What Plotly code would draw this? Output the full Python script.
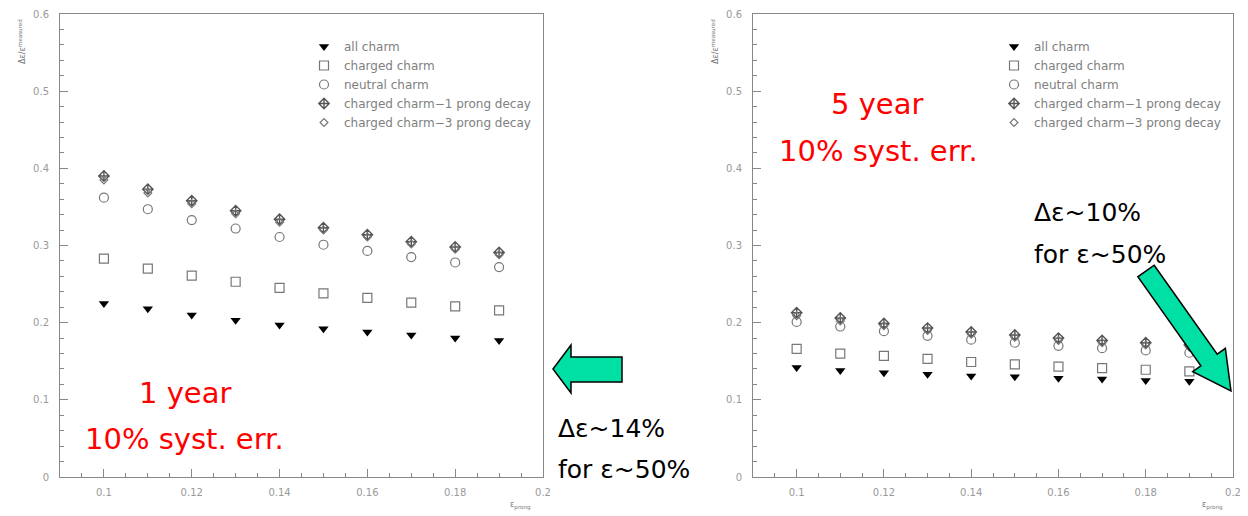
import math
import plotly.graph_objects as go

# The page body has an 8px default margin, so the figure is sized to fit the
# window and all pixel positions below are given in window coordinates.
OFF = 8
W, H = 1248 - OFF, 516 - OFF

# ---------------- data ----------------
x_vals = [0.10, 0.11, 0.12, 0.13, 0.14, 0.15, 0.16, 0.17, 0.18, 0.19]

series_names = ["all charm", "charged charm", "neutral charm",
                "charged charm\u22121 prong decay", "charged charm\u22123 prong decay"]

# 1 year (left panel)
all_1y = [0.225, 0.218, 0.210, 0.203, 0.197, 0.192, 0.188, 0.184, 0.180, 0.177]
charged_1y = [0.283, 0.270, 0.261, 0.253, 0.245, 0.238, 0.232, 0.226, 0.221, 0.216]
neutral_1y = [0.362, 0.347, 0.333, 0.322, 0.311, 0.301, 0.293, 0.285, 0.278, 0.272]
prong1_1y = [0.390, 0.373, 0.358, 0.345, 0.334, 0.323, 0.314, 0.305, 0.298, 0.291]
prong3_1y = [0.385, 0.368, 0.354, 0.341, 0.330, 0.320, 0.311, 0.302, 0.295, 0.288]

# 5 year (right panel)
all_5y = [0.142, 0.138, 0.135, 0.133, 0.131, 0.130, 0.128, 0.127, 0.125, 0.124]
charged_5y = [0.166, 0.160, 0.157, 0.153, 0.149, 0.146, 0.143, 0.141, 0.139, 0.137]
neutral_5y = [0.201, 0.195, 0.189, 0.183, 0.178, 0.174, 0.170, 0.167, 0.164, 0.161]
prong1_5y = [0.213, 0.206, 0.199, 0.193, 0.188, 0.184, 0.180, 0.177, 0.174, 0.171]
prong3_5y = [0.209, 0.202, 0.196, 0.190, 0.185, 0.181, 0.177, 0.174, 0.171, 0.168]

y_ticks = [0, 0.1, 0.2, 0.3, 0.4, 0.5, 0.6]
y_tick_labels = ["0", "0.1", "0.2", "0.3", "0.4", "0.5", "0.6"]
x_ticks = [0.1, 0.12, 0.14, 0.16, 0.18, 0.2]
x_tick_labels = ["0.1", "0.12", "0.14", "0.16", "0.18", "0.2"]

# ---------------- helpers ----------------
def px(x):
    return (x - OFF) / W

def py(y):
    return 1 - (y - OFF) / H

styles = [
    dict(symbol="triangle-down", size=9, color="black", line=dict(width=0)),
    dict(symbol="square-open", size=9, color="#777777", line=dict(width=1.2)),
    dict(symbol="circle-open", size=9, color="#777777", line=dict(width=1.2)),
    dict(symbol="diamond-cross-open", size=8, color="#555555", line=dict(width=1.4)),
    dict(symbol="diamond-open", size=6, color="#777777", line=dict(width=1.2)),
]

fig = go.Figure()

left_sets = [all_1y, charged_1y, neutral_1y, prong1_1y, prong3_1y]
right_sets = [all_5y, charged_5y, neutral_5y, prong1_5y, prong3_5y]

for name, ys, st in zip(series_names, left_sets, styles):
    fig.add_trace(go.Scatter(x=x_vals, y=ys, mode="markers", name=name,
                             marker=st, xaxis="x", yaxis="y", legend="legend"))
for name, ys, st in zip(series_names, right_sets, styles):
    fig.add_trace(go.Scatter(x=x_vals, y=ys, mode="markers", name=name,
                             marker=st, xaxis="x2", yaxis="y2", legend="legend2"))

axis_common = dict(
    showline=True, mirror=True, linecolor="#888888", linewidth=1, automargin=False,
    showgrid=False, zeroline=False, ticks="inside", ticklen=8, tickcolor="#888888",
    tickfont=dict(family="DejaVu Sans", size=10, color="#999999"),
)

xdom_l = [px(60), px(543)]
xdom_r = [px(753), px(1233)]
ydom = [py(477), py(14)]

xaxis_cfg = dict(axis_common, range=[0.09, 0.2], tickvals=x_ticks, ticktext=x_tick_labels,
                 minor=dict(dtick=0.005, tick0=0.09, ticks="inside", ticklen=4, tickcolor="#888888"),
                 ticklabelstandoff=6)
yaxis_cfg = dict(axis_common, range=[0, 0.6], tickvals=y_ticks, ticktext=y_tick_labels,
                 minor=dict(dtick=0.02, tick0=0, ticks="inside", ticklen=4, tickcolor="#888888"),
                 ticklabelstandoff=8)

legend_common = dict(bgcolor="rgba(0,0,0,0)", font=dict(family="DejaVu Sans", size=12, color="#808080"),
                     xanchor="left", yanchor="top", itemsizing="trace", tracegroupgap=0)

# ---------------- arrows ----------------
GREEN = "#00E0A4"

def path_from(points):
    return "M " + " L ".join(f"{px(x):.5f} {py(y):.5f}" for x, y in points) + " Z"

left_arrow = [(553, 369), (571, 345), (571, 357), (622, 357), (622, 382), (571, 382), (571, 393)]

T = (1146.0, 271.0)
tip = (1231.0, 391.0)
dx, dy = tip[0] - T[0], tip[1] - T[1]
L = math.hypot(dx, dy)
ux, uy = dx / L, dy / L
nx, ny = uy, -ux
hb, hh, headlen = 10, 20, 38
base = L - headlen

def pt(a, b):
    return (T[0] + a * ux + b * nx, T[1] + a * uy + b * ny)

right_arrow = [pt(0, hb), pt(base, hb), pt(base, hh), tip, pt(base, -hh), pt(base, -hb), pt(0, -hb)]

shapes = [
    dict(type="path", xref="paper", yref="paper", path=path_from(left_arrow),
         fillcolor=GREEN, line=dict(color="black", width=1.5), layer="above"),
    dict(type="path", xref="paper", yref="paper", path=path_from(right_arrow),
         fillcolor=GREEN, line=dict(color="black", width=1.5), layer="above"),
]

# ---------------- annotations ----------------
def ann(text, x, y, size, color, xanchor="center", angle=0, family="DejaVu Sans"):
    return dict(text=text, x=px(x), y=py(y), xref="paper", yref="paper",
                xanchor=xanchor, yanchor="middle", showarrow=False, textangle=angle,
                font=dict(family=family, size=size, color=color))

annotations = [
    ann("1 year", 185, 393, 29, "red"),
    ann("10% syst. err.", 184, 439, 29, "red"),
    ann("5 year", 877, 104, 29, "red"),
    ann("10% syst. err.", 878, 151, 29, "red"),
    ann("\u0394\u03b5~14%", 556, 428, 25, "black", xanchor="left"),
    ann("for \u03b5~50%", 556, 469, 25, "black", xanchor="left"),
    ann("\u0394\u03b5~10%", 1032, 213, 25, "black", xanchor="left"),
    ann("for \u03b5~50%", 1032, 254, 25, "black", xanchor="left"),
    ann("\u0394\u03b5/\u03b5<sup>measured</sup>", 22, 42, 8, "#777777", angle=-90),
    ann("\u0394\u03b5/\u03b5<sup>measured</sup>", 715, 42, 8, "#777777", angle=-90),
    ann("\u03b5<sub>prong</sub>", 520, 505, 8, "#777777"),
    ann("\u03b5<sub>prong</sub>", 1212, 505, 8, "#777777"),
]

fig.update_layout(
    width=W, height=H,
    margin=dict(l=0, r=0, t=0, b=0, pad=0, autoexpand=False),
    paper_bgcolor="white", plot_bgcolor="white",
    xaxis=dict(xaxis_cfg, domain=xdom_l, anchor="y"),
    yaxis=dict(yaxis_cfg, domain=ydom, anchor="x"),
    xaxis2=dict(xaxis_cfg, domain=xdom_r, anchor="y2"),
    yaxis2=dict(yaxis_cfg, domain=ydom, anchor="x2"),
    legend=dict(legend_common, x=px(304), y=py(32)),
    legend2=dict(legend_common, x=px(994), y=py(32)),
    shapes=shapes,
    annotations=annotations,
    showlegend=True,
)

fig.write_html("out.html")
